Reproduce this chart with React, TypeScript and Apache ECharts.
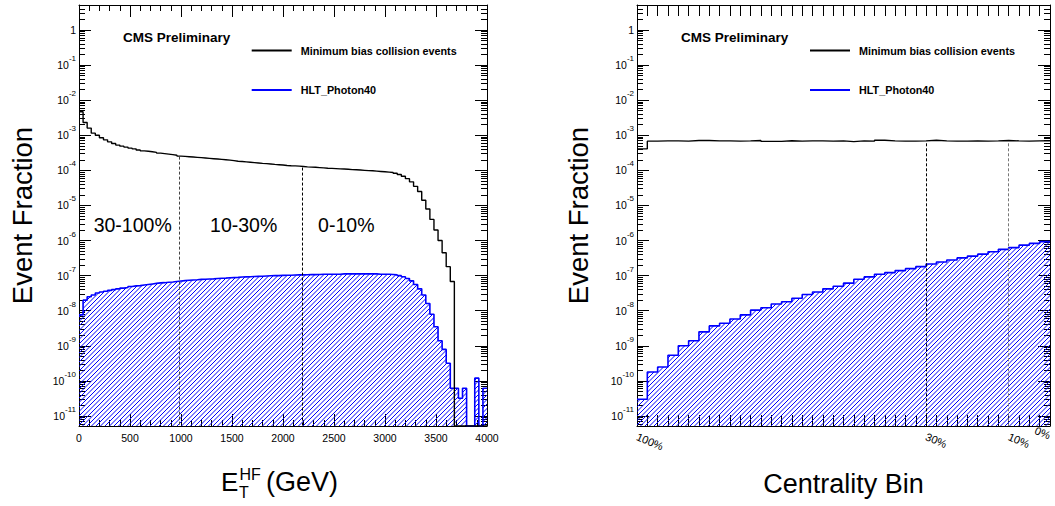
import React, { useEffect, useRef } from 'react';
import * as echarts from 'echarts';

const FONT = '"Liberation Sans", Arial, Helvetica, sans-serif';

// ---------- Left panel: E_T^HF, 100 bins of 40 GeV from 0 to 4000 GeV ----------
const etStart = 0;
const etBinWidth = 40;
const etMinBias = [
  4.7e-3, 2.3e-3, 1.6e-3, 1.15e-3, 1.0e-3, 8.5e-4, 7.4e-4, 6.5e-4, 5.8e-4, 5.25e-4,
  4.9e-4, 4.6e-4, 4.3e-4, 4.1e-4, 3.8e-4, 3.6e-4, 3.5e-4, 3.4e-4, 3.25e-4, 3.1e-4,
  3.0e-4, 2.9e-4, 2.8e-4, 2.7e-4, 2.55e-4, 2.5e-4, 2.45e-4, 2.4e-4, 2.35e-4, 2.3e-4,
  2.25e-4, 2.2e-4, 2.15e-4, 2.1e-4, 2.05e-4, 2.0e-4, 1.95e-4, 1.9e-4, 1.82e-4, 1.78e-4,
  1.74e-4, 1.7e-4, 1.66e-4, 1.62e-4, 1.58e-4, 1.55e-4, 1.52e-4, 1.48e-4, 1.45e-4, 1.42e-4,
  1.38e-4, 1.35e-4, 1.34e-4, 1.32e-4, 1.29e-4, 1.26e-4, 1.24e-4, 1.22e-4, 1.2e-4, 1.18e-4,
  1.15e-4, 1.14e-4, 1.12e-4, 1.1e-4, 1.09e-4, 1.07e-4, 1.05e-4, 1.04e-4, 1.02e-4, 1.0e-4,
  9.8e-5, 9.7e-5, 9.5e-5, 9.3e-5, 9.1e-5, 8.9e-5, 8.7e-5, 8.3e-5, 7.6e-5, 6.8e-5,
  5.8e-5, 4.7e-5, 3.5e-5, 2.5e-5, 1.4e-5, 7.9e-6, 4.0e-6, 2.0e-6, 1.0e-6, 4.5e-7,
  1.8e-7, 6.8e-8, 0, 0, 0, 0, 0, 0, 0, 0,
];
const etPhoton40 = [
  7.6e-9, 2.0e-8, 2.5e-8, 2.8e-8, 3.2e-8, 3.4e-8, 3.6e-8, 3.8e-8, 4.0e-8, 4.2e-8,
  4.4e-8, 4.6e-8, 4.9e-8, 5.1e-8, 5.2e-8, 5.4e-8, 5.6e-8, 5.8e-8, 6.0e-8, 6.2e-8,
  6.3e-8, 6.5e-8, 6.6e-8, 6.8e-8, 7.0e-8, 7.2e-8, 7.4e-8, 7.5e-8, 7.6e-8, 7.8e-8,
  7.9e-8, 8.0e-8, 8.1e-8, 8.3e-8, 8.4e-8, 8.5e-8, 8.7e-8, 8.8e-8, 8.9e-8, 9.1e-8,
  9.2e-8, 9.3e-8, 9.4e-8, 9.5e-8, 9.6e-8, 9.8e-8, 9.9e-8, 1.0e-7, 1.0e-7, 1.02e-7,
  1.03e-7, 1.03e-7, 1.04e-7, 1.05e-7, 1.05e-7, 1.06e-7, 1.07e-7, 1.07e-7, 1.08e-7, 1.09e-7,
  1.09e-7, 1.1e-7, 1.1e-7, 1.1e-7, 1.12e-7, 1.12e-7, 1.12e-7, 1.13e-7, 1.12e-7, 1.12e-7,
  1.13e-7, 1.12e-7, 1.12e-7, 1.1e-7, 1.1e-7, 1.1e-7, 1.08e-7, 1.05e-7, 1.0e-7, 9.3e-8,
  8.3e-8, 7.1e-8, 5.6e-8, 4.2e-8, 2.8e-8, 1.6e-8, 7.9e-9, 3.5e-9, 1.4e-9, 7.9e-10,
  3.2e-10, 6.2e-11, 6.2e-11, 3.2e-11, 6.2e-11, 0, 0, 1.2e-10, 0, 6.2e-11,
];
const etBoundaries = [985, 2185];
const etBoundaryTops = [2.46e-4, 1.2e-4];
const etBoundaryColors = ['#444', '#000'];
const etRegionLabels = ['30-100%', '10-30%', '0-10%'];

// ---------- Right panel: 40 centrality bins of 2.5 %, from 100 % down to 0 % ----------
const centStart = 100;
const centBinWidth = -2.5;
const centMinBias = [
  4.1e-4, 6.8e-4, 6.9e-4, 6.9e-4, 6.8e-4, 7.1e-4, 7.1e-4, 6.9e-4, 6.9e-4, 6.8e-4,
  6.9e-4, 7.1e-4, 6.7e-4, 6.7e-4, 7.0e-4, 6.8e-4, 6.9e-4, 6.9e-4, 6.8e-4, 6.9e-4,
  6.6e-4, 6.9e-4, 6.8e-4, 7.2e-4, 6.9e-4, 6.8e-4, 6.8e-4, 6.9e-4, 7.2e-4, 6.9e-4,
  6.8e-4, 6.8e-4, 6.9e-4, 6.8e-4, 6.9e-4, 7.1e-4, 6.9e-4, 6.8e-4, 6.9e-4, 7.0e-4,
];
const centPhoton40 = [
  3.0e-11, 1.8e-10, 2.5e-10, 5.4e-10, 1.0e-9, 1.4e-9, 2.5e-9, 3.7e-9, 4.4e-9, 5.8e-9,
  7.6e-9, 1.04e-8, 1.22e-8, 1.56e-8, 1.8e-8, 2.26e-8, 2.9e-8, 3.4e-8, 4.2e-8, 5.0e-8,
  6.1e-8, 7.9e-8, 9.2e-8, 1.1e-7, 1.22e-7, 1.39e-7, 1.58e-7, 1.8e-7, 2.14e-7, 2.45e-7,
  2.8e-7, 3.2e-7, 3.6e-7, 4.1e-7, 4.8e-7, 5.6e-7, 6.3e-7, 7.4e-7, 8.3e-7, 9.3e-7,
];
const centLabelValues = [100, 30, 10, 0];
const centBoundaries = [30, 10];
const centBoundaryTops = [5.9e-4, 5.9e-4];
const centBoundaryColors = ['#000', '#777'];

const seriesNames = ['Minimum bias collision events', 'HLT_Photon40'];
const decadeTicks = [-11, -10, -9, -8, -7, -6, -5, -4, -3, -2, -1, 0];

// y range of the frame, in log10 units
const Y_MIN_EXP = -11.285;
const Y_MAX_EXP = 0.712;

const toExp = (v: number) => (v > 0 ? Math.log10(v) : Y_MIN_EXP);

function histPoints(vals: number[], start: number, step: number) {
  const pts: number[][] = vals.map((v, i) => [start + i * step, toExp(v)]);
  pts.push([start + vals.length * step, toExp(vals[vals.length - 1])]);
  return pts;
}

function minorDecadeTicks() {
  const out: number[] = [];
  for (let n = -12; n <= 0; n++) {
    for (let k = 2; k <= 9; k++) {
      const e = n + Math.log10(k);
      if (e > Y_MIN_EXP && e < Y_MAX_EXP) out.push(e);
    }
  }
  return out;
}

function makeHatch() {
  const s = 9;
  const c = document.createElement('canvas');
  c.width = s;
  c.height = s;
  const ctx = c.getContext('2d')!;
  ctx.strokeStyle = '#0000ff';
  ctx.lineWidth = 1;
  for (const k of [0, 4.5, 9, 13.5, 18]) {
    ctx.beginPath();
    ctx.moveTo(k + 1, -1);
    ctx.lineTo(k - 10, 10);
    ctx.stroke();
  }
  return { image: c.toDataURL(), repeat: 'repeat', imageWidth: s, imageHeight: s };
}

export default function App() {
  const ref = useRef<HTMLDivElement>(null);
  useEffect(() => {
    document.body.style.margin = '0';
    const chart = echarts.init(ref.current!, undefined, { renderer: 'svg' });
    const hatch = makeHatch();
    const minorTicks = minorDecadeTicks();

    const yLabelFmt = (v: number) => {
      const e = Math.round(v);
      return e === 0 ? '{b|1}' : `{b|10}{s|${e}}`;
    };
    const yRich = {
      b: { fontSize: 10.5, lineHeight: 21, verticalAlign: 'middle', fontFamily: FONT, color: '#000' },
      s: { fontSize: 8, lineHeight: 10, verticalAlign: 'top', fontFamily: FONT, color: '#000' },
    };

    const yMajor = (gridIndex: number, position: string, labels: boolean, nameGap = 0) => ({
      type: 'value',
      gridIndex,
      position,
      min: Y_MIN_EXP,
      max: Y_MAX_EXP,
      axisLine: { show: true, onZero: false, lineStyle: { color: '#000', width: 1 } },
      axisTick: { show: true, inside: true, length: 12, customValues: decadeTicks, lineStyle: { color: '#000' } },
      axisLabel: labels
        ? { show: true, customValues: decadeTicks, formatter: yLabelFmt, margin: 3, fontSize: 10.5, color: '#000', fontFamily: FONT, rich: yRich }
        : { show: false },
      splitLine: { show: false },
      name: labels ? 'Event Fraction' : '',
      nameLocation: 'middle',
      nameGap,
      nameRotate: 90,
      nameTextStyle: { fontSize: 27.5, color: '#000', fontFamily: FONT },
    });
    const yMinor = (gridIndex: number, position: string) => ({
      type: 'value',
      gridIndex,
      position,
      min: Y_MIN_EXP,
      max: Y_MAX_EXP,
      axisLine: { show: false, onZero: false },
      axisTick: { show: true, inside: true, length: 6, customValues: minorTicks, lineStyle: { color: '#000' } },
      axisLabel: { show: false },
      splitLine: { show: false },
    });
    const xEt = (position: string, labels: boolean) => ({
      type: 'value',
      gridIndex: 0,
      position,
      min: 0,
      max: 4000,
      interval: 500,
      axisLine: { show: true, onZero: false, lineStyle: { color: '#000', width: 1 } },
      axisTick: { show: true, inside: true, length: 12, lineStyle: { color: '#000' } },
      minorTick: { show: true, splitNumber: 5, length: 6, lineStyle: { color: '#000' } },
      axisLabel: labels
        ? { show: true, margin: 6, fontSize: 10.5, color: '#000', fontFamily: FONT, formatter: (v: number) => String(v) }
        : { show: false },
      splitLine: { show: false },
    });
    const xCent = (position: string, labels: boolean) => ({
      type: 'value',
      gridIndex: 1,
      position,
      min: 0,
      max: 100,
      interval: 2.5,
      inverse: true,
      axisLine: { show: true, onZero: false, lineStyle: { color: '#000', width: 1 } },
      axisTick: { show: true, inside: true, length: 11, lineStyle: { color: '#000' } },
      axisLabel: labels
        ? { show: true, customValues: centLabelValues, formatter: '{value}%', rotate: -23, margin: 10, alignMaxLabel: 'right', fontSize: 11, color: '#000', fontFamily: FONT }
        : { show: false },
      splitLine: { show: false },
      name: labels ? 'Centrality Bin' : '',
      nameLocation: 'middle',
      nameGap: 44,
      nameTextStyle: { fontSize: 27, color: '#000', fontFamily: FONT },
    });

    const boundaryLines = (xs: number[], tops: number[], colors: string[]) =>
      xs.map((x, i) => [
        { coord: [x, Math.log10(tops[i])], lineStyle: { color: colors[i] } },
        { coord: [x, Y_MIN_EXP] },
      ]);

    const markLineBase = {
      silent: true,
      symbol: ['none', 'none'],
      label: { show: false },
      lineStyle: { type: [3, 2], width: 1, color: '#000' },
      animation: false,
    };

    const legendBase = {
      orient: 'vertical',
      itemWidth: 40,
      itemHeight: 2,
      itemGap: 28.5,
      icon: 'rect',
      padding: 0,
      selectedMode: false,
      data: seriesNames,
      textStyle: { fontSize: 10.8, fontWeight: 'bold', color: '#000', fontFamily: FONT, padding: [0, 0, 0, 4] },
    };

    const regionX = [132.7, 243.7, 346.3];
    const txt = (x: number, y: number, text: string, fontSize: number, align = 'left') => ({
      type: 'text',
      x,
      y,
      style: { text, fontSize, fontFamily: FONT, fill: '#000', textAlign: align, textVerticalAlign: 'middle', align, verticalAlign: 'middle' },
    });

    chart.setOption({
      animation: false,
      textStyle: { fontFamily: FONT },
      grid: [
        { left: 79, top: 5, width: 408, height: 421, containLabel: false, outerBoundsMode: 'none' },
        { left: 637, top: 5, width: 413, height: 421, containLabel: false, outerBoundsMode: 'none' },
      ],
      title: [
        { text: 'CMS Preliminary', left: 123, top: 30, padding: 0, textStyle: { fontSize: 13.5, fontWeight: 'bold', color: '#000', fontFamily: FONT } },
        { text: 'CMS Preliminary', left: 681, top: 30, padding: 0, textStyle: { fontSize: 13.5, fontWeight: 'bold', color: '#000', fontFamily: FONT } },
      ],
      legend: [
        { ...legendBase, left: 251.7, top: 45 },
        { ...legendBase, left: 810, top: 45 },
      ],
      xAxis: [xEt('bottom', true), xEt('top', false), xCent('bottom', true), xCent('top', false)],
      yAxis: [
        yMajor(0, 'left', true, 43),
        yMinor(0, 'left'),
        yMajor(0, 'right', false),
        yMinor(0, 'right'),
        yMajor(1, 'left', true, 45),
        yMinor(1, 'left'),
        yMajor(1, 'right', false),
        yMinor(1, 'right'),
      ],
      series: [
        {
          type: 'line',
          name: seriesNames[1],
          xAxisIndex: 0,
          yAxisIndex: 0,
          step: 'end',
          symbol: 'none',
          showSymbol: false,
          data: histPoints(etPhoton40, etStart, etBinWidth),
          lineStyle: { color: '#0000ff', width: 1.6 },
          itemStyle: { color: '#0000ff' },
          areaStyle: { color: hatch, opacity: 1, origin: 'start' },
          z: 2,
        },
        {
          type: 'line',
          name: seriesNames[0],
          xAxisIndex: 0,
          yAxisIndex: 0,
          step: 'end',
          symbol: 'none',
          showSymbol: false,
          data: histPoints(etMinBias, etStart, etBinWidth),
          lineStyle: { color: '#000', width: 1.4 },
          itemStyle: { color: '#000' },
          z: 3,
          markLine: { ...markLineBase, data: boundaryLines(etBoundaries, etBoundaryTops, etBoundaryColors) },
        },
        {
          type: 'line',
          name: seriesNames[1],
          xAxisIndex: 2,
          yAxisIndex: 4,
          step: 'end',
          symbol: 'none',
          showSymbol: false,
          data: histPoints(centPhoton40, centStart, centBinWidth),
          lineStyle: { color: '#0000ff', width: 1.6 },
          itemStyle: { color: '#0000ff' },
          areaStyle: { color: hatch, opacity: 1, origin: 'start' },
          z: 2,
        },
        {
          type: 'line',
          name: seriesNames[0],
          xAxisIndex: 2,
          yAxisIndex: 4,
          step: 'end',
          symbol: 'none',
          showSymbol: false,
          data: histPoints(centMinBias, centStart, centBinWidth),
          lineStyle: { color: '#000', width: 1.4 },
          itemStyle: { color: '#000' },
          z: 3,
          markLine: { ...markLineBase, data: boundaryLines(centBoundaries, centBoundaryTops, centBoundaryColors) },
        },
      ],
      graphic: [
        ...etRegionLabels.map((t, i) => txt(regionX[i], 225, t, 19.5, 'center')),
        txt(221, 482.3, 'E', 26),
        txt(239.5, 474.5, 'HF', 16),
        txt(239, 492.5, 'T', 16),
        txt(266, 482.3, '(GeV)', 27),
      ],
    });
    return () => chart.dispose();
  }, []);
  return <div ref={ref} style={{ width: 1055, height: 506 }} />;
}
